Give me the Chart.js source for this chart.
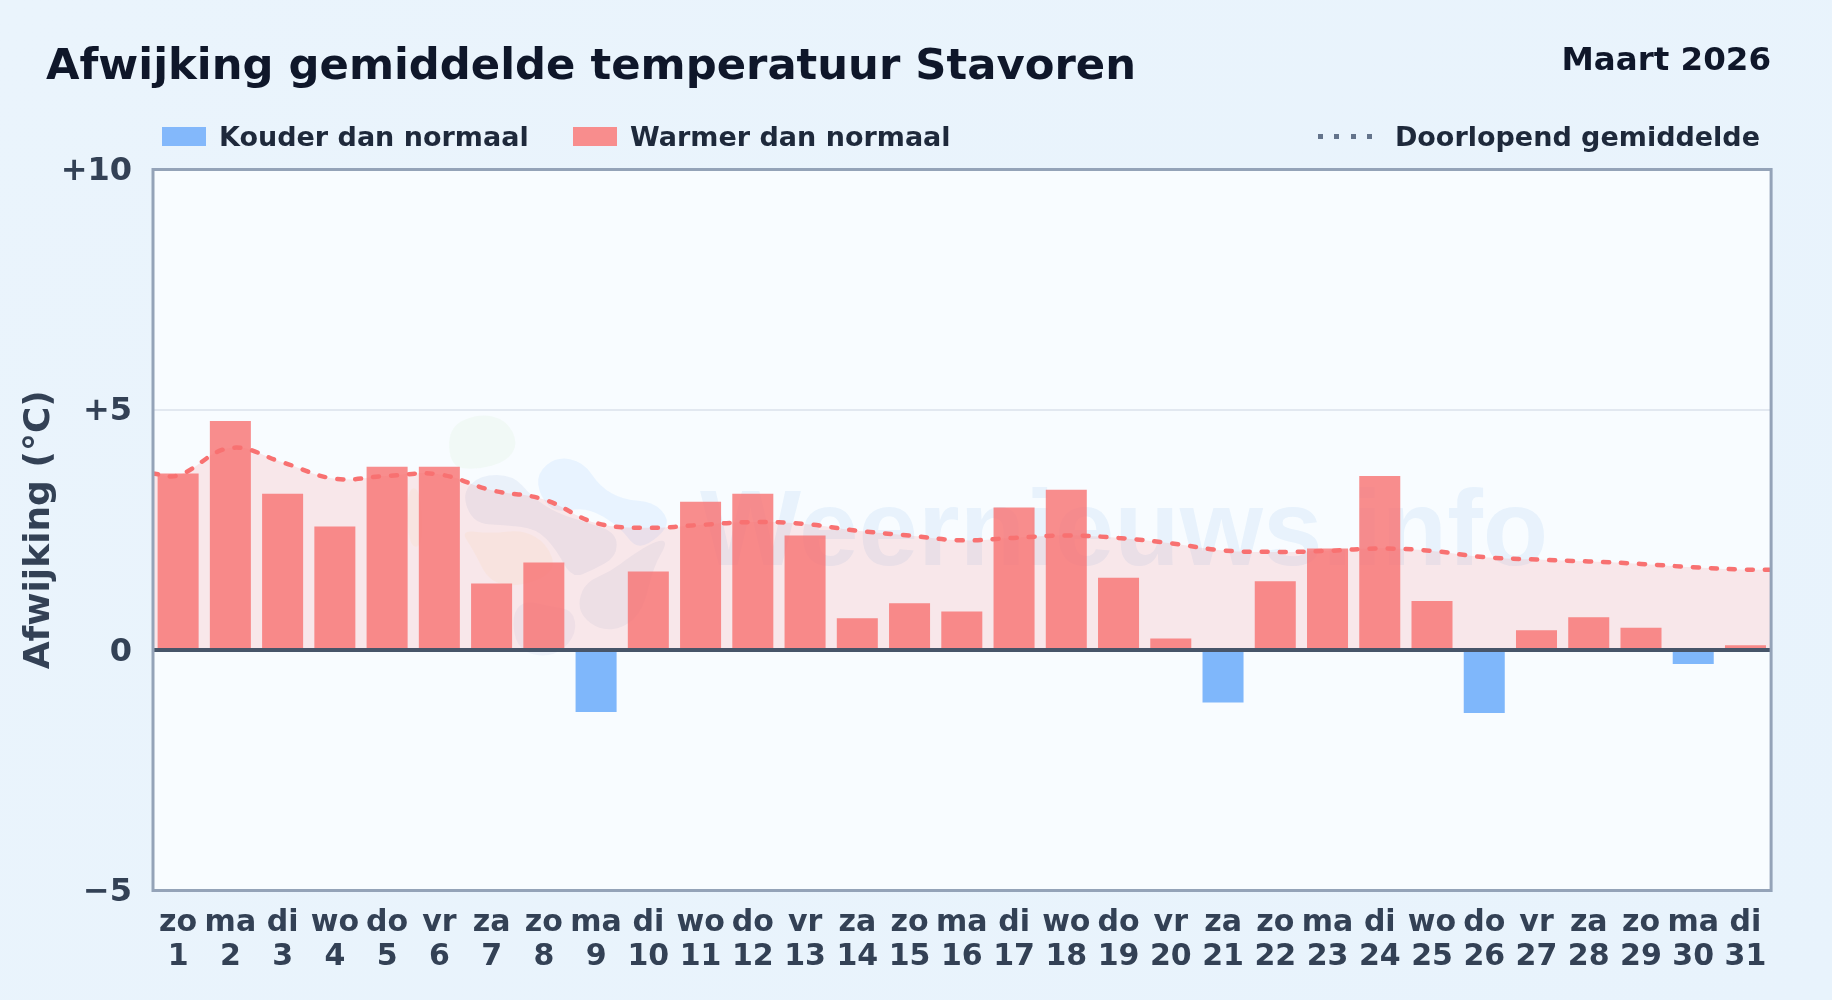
<!DOCTYPE html>
<html lang="nl">
<head>
<meta charset="utf-8">
<title>Afwijking gemiddelde temperatuur Stavoren</title>
<script src="https://cdn.jsdelivr.net/npm/chart.js@4"></script>
<style>
    html, body { margin: 0; padding: 0; }
    body {
        width: 1832px; height: 1000px; overflow: hidden; position: relative;
        background: linear-gradient(135deg, #eaf4fc, #e8f3fc);
        font-family: "DejaVu Sans", sans-serif; font-weight: bold;
    }
    canvas { position: absolute; left: 0; top: 0; }
    .txt { position: absolute; white-space: nowrap; line-height: 1; }
    #title { left: 46px; top: 43px; font-size: 43.3px; color: #0f172a; }
    #month { right: 61px; top: 43px; font-size: 32.5px; color: #0f172a; }
    .leg { font-size: 27px; color: #1e293b; top: 123px; }
    .swatch { position: absolute; top: 127px; height: 19px; width: 44px; }
    #dots {
        position: absolute; left: 1318px; top: 134px; width: 56px; height: 5px;
        background: repeating-linear-gradient(90deg, #64748b 0 5px, transparent 5px 16.5px);
    }
</style>
</head>
<body>
<canvas id="chart" width="1832" height="1000"></canvas>
<div class="txt" id="title">Afwijking gemiddelde temperatuur Stavoren</div>
<div class="txt" id="month">Maart 2026</div>
<div class="swatch" style="left:162px;background:#83b8fb"></div>
<div class="txt leg" id="legCold" style="left:219px"></div>
<div class="swatch" style="left:573px;background:#f88d8d"></div>
<div class="txt leg" id="legWarm" style="left:630px"></div>
<div id="dots"></div>
<div class="txt leg" id="legMean" style="right:72px"></div>
<script>
const dayNames = ['zo','ma','di','wo','do','vr','za','zo','ma','di','wo','do','vr','za','zo','ma','di','wo','do','vr','za','zo','ma','di','wo','do','vr','za','zo','ma','di'];
const dayNumbers = ['1','2','3','4','5','6','7','8','9','10','11','12','13','14','15','16','17','18','19','20','21','22','23','24','25','26','27','28','29','30','31'];
const deviations = [3.67,4.76,3.25,2.57,3.81,3.81,1.38,1.82,-1.29,1.63,3.08,3.25,2.38,0.66,0.97,0.80,2.96,3.33,1.50,0.24,-1.09,1.43,2.11,3.62,1.02,-1.31,0.41,0.68,0.46,-0.29,0.10];
// the average line runs on to both edges of the plot, hence the extra 0.5 and 31.5
const meanDays = [0.5,1,2,3,4,5,6,7,8,9,10,11,12,13,14,15,16,17,18,19,20,21,22,23,24,25,26,27,28,29,30,31,31.5];
const runningMean = [3.67,3.63,4.2,3.9,3.56,3.62,3.65,3.32,3.13,2.64,2.54,2.6,2.66,2.62,2.48,2.38,2.28,2.33,2.38,2.33,2.22,2.07,2.04,2.06,2.11,2.06,1.93,1.88,1.84,1.79,1.72,1.67,1.67];
const yTicks = [-5,0,5,10];

const labelCold = 'Kouder dan normaal';
const labelWarm = 'Warmer dan normaal';
const labelMean = 'Doorlopend gemiddelde';

document.getElementById('legCold').textContent = labelCold;
document.getElementById('legWarm').textContent = labelWarm;
document.getElementById('legMean').textContent = labelMean;

const fontFamily = '"DejaVu Sans", sans-serif';

// faint logo behind the bars, shapes in px relative to its corner
const logoBlobs = [
    {c: 'rgba(190,230,170,.1)', p: [[175,110],[270,70],[350,90],[385,160],[350,215],[260,240],[180,230]]},
    {c: 'rgba(147,197,253,.16)', p: [[440,250],[500,200],[580,215],[630,290],[700,330],[790,335],[840,390],[810,440],[740,480],[690,410],[590,350],[500,370],[450,320]]},
    {c: 'rgba(80,110,190,.08)', p: [[215,310],[270,255],[370,255],[425,320],[500,370],[600,400],[680,430],[680,500],[610,540],[545,565],[500,480],[440,415],[340,405],[250,400]]},
    {c: 'rgba(80,110,190,.07)', p: [[565,630],[590,575],[660,545],[720,500],[800,450],[835,455],[790,530],[760,660],[700,715],[630,720],[575,680]]},
    {c: 'rgba(80,110,190,.06)', p: [[365,680],[400,630],[480,650],[550,660],[560,730],[510,790],[440,800],[380,770]]},
    {c: 'rgba(250,200,120,.09)', p: [[210,420],[300,430],[400,420],[470,460],[500,540],[400,590],[300,580],[250,480]]},
    {c: 'rgba(250,200,120,.08)', p: [[50,300],[90,290],[100,470],[55,470]]},
];

function drawBlob(ctx, blob) {
    const p = blob.p;
    ctx.beginPath();
    for (let i = 0; i < p.length; i++) {
        const a = p[i], b = p[(i + 1) % p.length];
        const mx = (a[0] + b[0]) / 2, my = (a[1] + b[1]) / 2;
        if (i == 0) ctx.moveTo((p[p.length - 1][0] + a[0]) / 2, (p[p.length - 1][1] + a[1]) / 2);
        ctx.quadraticCurveTo(a[0], a[1], mx, my);
    }
    ctx.closePath();
    ctx.fillStyle = blob.c;
    ctx.fill();
}

const plotDecor = {
    id: 'plotDecor',
    beforeDraw(chart) {
        const {ctx, chartArea: a} = chart;
        ctx.save();
        ctx.fillStyle = '#f8fcff';
        ctx.fillRect(a.left, a.top, a.right - a.left, a.bottom - a.top);
        ctx.restore();
    },
    beforeDatasetsDraw(chart) {
        const {ctx} = chart;
        ctx.save();
        ctx.translate(390, 390);
        ctx.scale(1 / 3, 1 / 3);
        logoBlobs.forEach(b => drawBlob(ctx, b));
        ctx.restore();
        ctx.save();
        ctx.font = 'bold 107px "Liberation Sans", sans-serif';
        ctx.textAlign = 'left';
        ctx.textBaseline = 'alphabetic';
        ctx.fillStyle = 'rgba(125,175,230,.13)';
        ctx.fillText('Weernieuws.info', 700, 565);
        ctx.restore();
    },
    afterDraw(chart) {
        const {ctx, chartArea: a} = chart;
        ctx.save();
        ctx.strokeStyle = '#94a3b8';
        ctx.lineWidth = 3;
        ctx.strokeRect(a.left + 1, a.top + 0.5, a.right - a.left - 1.5, a.bottom - a.top - 0.5);
        ctx.restore();
    }
};

const data = {
    labels: dayNames.map((name, i) => [name, dayNumbers[i]]),
    datasets: [
        {
            type: 'line',
            label: labelMean,
            data: meanDays.map((d, i) => ({x: d, y: runningMean[i]})),
            xAxisID: 'xLine',
            yAxisID: 'y',
            order: 1,
            borderColor: '#f87171',
            borderWidth: 4.5,
            borderDash: [6, 12],
            borderCapStyle: 'round',
            backgroundColor: 'rgba(248,113,113,.15)',
            fill: 'origin',
            pointRadius: 0,
            tension: 0.4,
        },
        {
            type: 'bar',
            label: labelWarm,
            data: deviations,
            xAxisID: 'x',
            yAxisID: 'y',
            order: 2,
            grouped: false,
            backgroundColor: deviations.map(v => v < 0 ? 'rgba(96,165,250,.8)' : 'rgba(248,113,113,.8)'),
            barPercentage: 0.785,
            categoryPercentage: 1,
        },
    ]
};

const config = {
    type: 'bar',
    data: data,
    plugins: [plotDecor],
    options: {
        responsive: false,
        animation: false,
        devicePixelRatio: 1,
        layout: {padding: {left: 0, right: 60.4, top: 169, bottom: 0}},
        plugins: {
            legend: {display: false},
            title: {display: false},
            tooltip: {enabled: false},
        },
        scales: {
            x: {
                type: 'category',
                offset: true,
                grid: {display: false},
                border: {display: false},
                afterFit: s => { s.height = 109.5; },
                ticks: {
                    color: '#334155',
                    maxRotation: 0,
                    autoSkip: false,
                    padding: 8,
                    font: {family: fontFamily, weight: 'bold', size: 30, lineHeight: 1.13},
                },
            },
            xLine: {
                type: 'linear',
                display: false,
                offset: false,
                min: 0.5,
                max: 31.5,
            },
            y: {
                type: 'linear',
                min: -5,
                max: 10,
                afterFit: s => { s.width = 152; },
                afterBuildTicks: s => { s.ticks = yTicks.map(v => ({value: v})); },
                border: {display: false},
                grid: {
                    z: 1,
                    drawTicks: false,
                    color: c => c.tick.value == 0 ? '#475569' : '#e2e8f0',
                    lineWidth: c => c.tick.value == 0 ? 4 : 2,
                },
                ticks: {
                    color: '#334155',
                    padding: 20,
                    // empty first line with a small line height moves the label a bit down
                    font: {family: fontFamily, weight: 'bold', size: 32, lineHeight: '5px'},
                    callback: v => ['', v > 0 ? '+' + v : (v < 0 ? '\u2212' + Math.abs(v) : '0')],
                },
                title: {
                    display: true,
                    text: 'Afwijking (\u00b0C)',
                    color: '#334155',
                    padding: {top: 18, bottom: 0},
                    font: {family: fontFamily, weight: 'bold', size: 36},
                },
            },
        },
    },
};

const chart = new Chart(document.getElementById('chart'), config);
</script>
</body>
</html>
